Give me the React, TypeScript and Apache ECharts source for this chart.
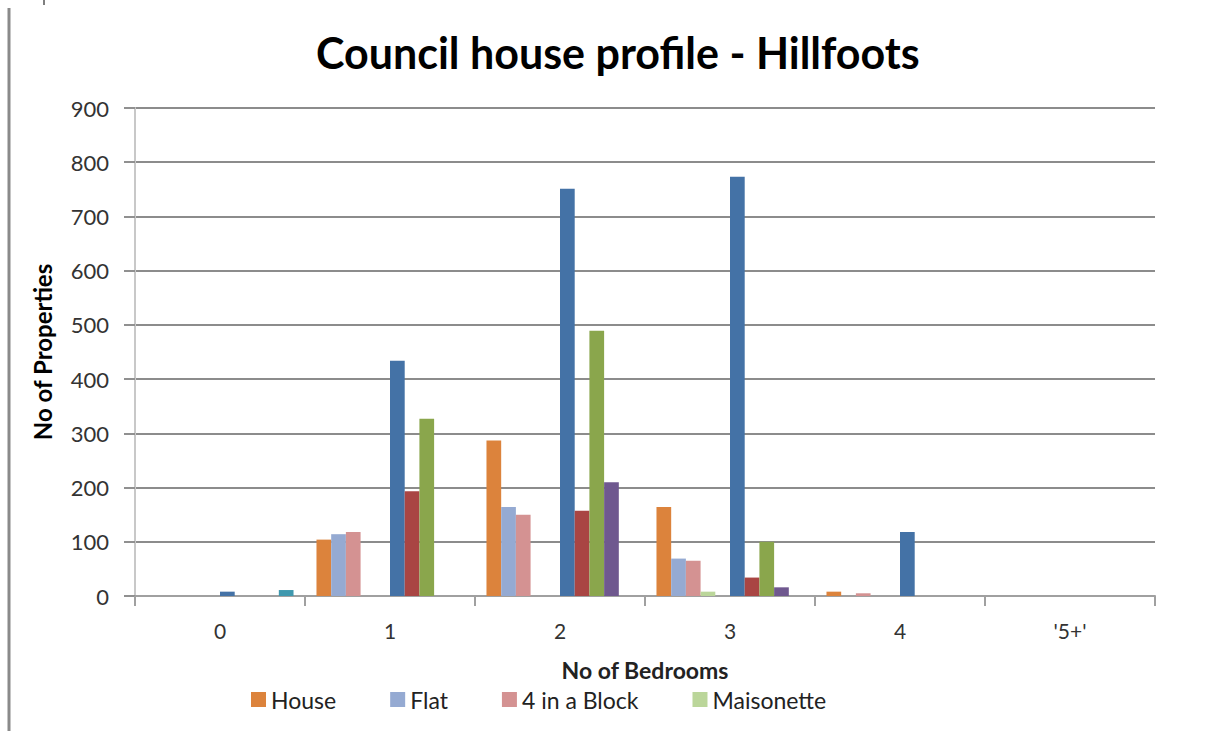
import React, { useEffect, useRef } from "react";
import * as echarts from "echarts";

const categories = ["0", "1", "2", "3", "4", "'5+'"];
const house = [0, 104, 287, 164, 8, 0];
const flat = [0, 114, 164, 69, 0, 0];
const fourInBlock = [0, 118, 150, 65, 5, 0];
const maisonette = [0, 0, 0, 8, 0, 0];
const series5 = [0, 0, 0, 0, 0, 0];
const series6 = [8, 434, 751, 773, 118, 0];
const series7 = [0, 193, 157, 34, 0, 0];
const series8 = [0, 327, 489, 100, 0, 0];
const series9 = [0, 0, 210, 16, 0, 0];
const series10 = [11, 0, 0, 0, 0, 0];

const seriesNames = [
  "House",
  "Flat",
  "4 in a Block",
  "Maisonette",
  "Series 5",
  "Series 6",
  "Series 7",
  "Series 8",
  "Series 9",
  "Series 10",
];
const seriesData = [house, flat, fourInBlock, maisonette, series5, series6, series7, series8, series9, series10];
const seriesColors = [
  "#DC833C",
  "#95AAD2",
  "#D49292",
  "#BBD69A",
  "#7F7F7F",
  "#4472A6",
  "#A94543",
  "#8AA64C",
  "#6F588F",
  "#3F98AE",
];
const legendNames = ["House", "Flat", "4 in a Block", "Maisonette"];

const FONT = "Lato, 'Open Sans', sans-serif";

export default function App() {
  const ref = useRef<HTMLDivElement>(null);
  useEffect(() => {
    if (!ref.current) return;
    const chart = echarts.init(ref.current, null, { renderer: "svg" });
    chart.setOption({
      animation: false,
      backgroundColor: "#ffffff",
      title: {
        text: "Council house profile - Hillfoots",
        left: 311,
        top: 26,
        textStyle: { fontFamily: FONT, fontWeight: "bold", fontSize: 43, color: "#000" },
      },
      legend: {
        data: legendNames,
        left: 246,
        top: 683,
        itemWidth: 15,
        itemHeight: 15,
        itemGap: 54,
        icon: "rect",
        textStyle: { fontFamily: FONT, fontSize: 23, color: "#222" },
      },
      grid: { left: 135, right: 57, top: 108, bottom: 135, containLabel: false },
      xAxis: {
        type: "category",
        data: categories,
        name: "No of Bedrooms",
        nameLocation: "middle",
        nameGap: 62,
        nameTextStyle: { fontFamily: FONT, fontWeight: "bold", fontSize: 23, color: "#222" },
        axisLine: { lineStyle: { color: "#a0a0a0", width: 2 } },
        axisTick: { show: true, length: 10, lineStyle: { color: "#a0a0a0", width: 2 } },
        axisLabel: { fontFamily: FONT, fontSize: 21, color: "#333", margin: 24 },
      },
      yAxis: {
        type: "value",
        min: 0,
        max: 900,
        interval: 100,
        name: "No of Properties",
        nameLocation: "middle",
        nameGap: 81,
        nameRotate: 90,
        nameTextStyle: { fontFamily: FONT, fontWeight: "bold", fontSize: 24, color: "#000" },
        axisLine: { show: true, lineStyle: { color: "#c8c8c8", width: 2 } },
        axisTick: { show: true, length: 11, lineStyle: { color: "#909090", width: 2 } },
        axisLabel: { fontFamily: FONT, fontSize: 22, color: "#333", margin: 26 },
        splitLine: { lineStyle: { color: "#8c8c8c", width: 2 } },
      },
      series: seriesNames.map((name, i) => ({
        name,
        type: "bar",
        data: seriesData[i],
        barGap: "0%",
        barCategoryGap: "13.5%",
        itemStyle: { color: seriesColors[i] },
      })),
      graphic: [
        {
          type: "line",
          shape: { x1: 9, y1: 8, x2: 9, y2: 731 },
          style: { stroke: "#8a8a8a", lineWidth: 3 },
        },
        {
          type: "line",
          shape: { x1: 44, y1: 0, x2: 44, y2: 5 },
          style: { stroke: "#555", lineWidth: 1.5 },
        },
      ],
    });
    return () => chart.dispose();
  }, []);
  return (
    <div
      ref={ref}
      style={{ position: "fixed", left: 0, top: 0, width: 1212, height: 731, background: "#fff" }}
    />
  );
}
